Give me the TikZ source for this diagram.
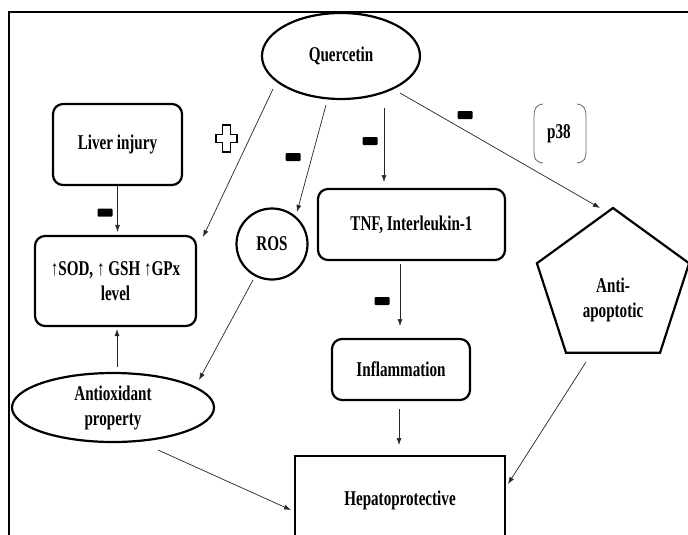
\documentclass[tikz,border=0pt]{standalone}
\usepackage{fontspec}
\setmainfont{Liberation Serif}[FakeStretch=0.72]
\usetikzlibrary{shapes.geometric,arrows.meta,calc}
\begin{document}
\begin{tikzpicture}[x=1pt,y=-1pt,
  lbl/.style={font=\fontsize{21}{25}\selectfont\bfseries, align=center, text=black},
  rbox/.style={lbl, draw, line width=2.2pt, rounded corners=10pt, inner sep=0pt},
  oval/.style={lbl, draw, ellipse, line width=2.2pt, inner sep=0pt},
  arr/.style={-{Latex[length=7pt,width=5pt]}, line width=0.7pt, draw=black!85},
  minus/.style={fill=black, minimum width=15pt, minimum height=8pt, inner sep=0pt, rounded corners=1pt},
  bracket/.style={draw=black!60, line width=0.8pt}]
\useasboundingbox (0,0) rectangle (688,535);
\clip (0,0) rectangle (688,535);
\fill[white] (0,0) rectangle (688,535);
\draw[line width=2.2pt] (9,560) -- (9,12) -- (700,12);

% nodes
\node[oval, minimum width=158pt, minimum height=86pt] (Q) at (341,56) {Quercetin};
\node[rbox, minimum width=129pt, minimum height=81pt] (liver) at (117.5,144.5) {Liver injury};
\node[rbox, minimum width=161pt, minimum height=90pt] (sod) at (115.5,281) {↑SOD, ↑ GSH ↑GPx\\level};
\node[lbl, circle, draw, line width=2.2pt, minimum size=71pt, inner sep=0pt] (ros) at (272,244) {ROS};
\node[rbox, minimum width=187pt, minimum height=71pt] (tnf) at (411.5,224.5) {TNF, Interleukin-1};
\node[rbox, minimum width=138pt, minimum height=61pt] (infl) at (401,369.5) {Inflammation};
\node[regular polygon, regular polygon sides=5, draw, line width=2.2pt, minimum size=160pt, inner sep=0pt] (anti) at (613,288) {};
\node[lbl] (antitext) at (613,300) {Anti-\\apoptotic};
\node[oval, minimum width=202pt, minimum height=69pt] (antiox) at (113,407.5) {Antioxidant\\property};
\node[lbl, draw, line width=2.6pt, minimum width=210pt, minimum height=88pt, inner sep=0pt] (hep) at (400,500) {Hepatoprotective};
\node[lbl] (p38) at (559,134) {p38};

% p38 brackets
\draw[bracket] (543,104) .. controls (535,105) and (534,110) .. (534,117) -- (534,151) .. controls (534,158) and (535,162) .. (543,163);
\draw[bracket] (577,104) .. controls (585,105) and (586,110) .. (586,117) -- (586,151) .. controls (586,158) and (585,162) .. (577,163);

% signs
\draw[line width=1.8pt, fill=white] (222.5,125) -- (230.5,125) -- (230.5,134.5) -- (237,134.5) -- (237,142.5) -- (230.5,142.5) -- (230.5,152) -- (222.5,152) -- (222.5,142.5) -- (216,142.5) -- (216,134.5) -- (222.5,134.5) -- cycle;
\node[minus] (m1) at (105,212.5) {};
\node[minus] (m2) at (293,157) {};
\node[minus] (m3) at (370,141) {};
\node[minus] (m4) at (465,115) {};
\node[minus] (m5) at (382,301) {};

% connectors
\draw[arr] ($(Q)+(-68,33)$) -- ($(sod)+(87.5,-44)$);
\draw[arr] ($(Q)+(-15,49)$) -- ($(ros)+(25,-32)$);
\draw[arr] ($(Q)+(43,52)$) -- ($(tnf)+(-27.5,-42.5)$);
\draw[arr] ($(Q)+(59,37)$) -- ($(anti)+(-13,-80)$);
\draw[arr] (liver.south) -- ($(liver.south |- sod.north)+(0,-3)$);
\draw[arr] ($(antiox)+(4,-40.5)$) -- ($(sod.south)+(1.5,2)$);
\draw[arr] ($(ros)+(-19,36)$) -- ($(antiox)+(86,-27.5)$);
\draw[arr] ($(tnf)+(-11.5,39.5)$) -- ($(infl)+(-1,-43.5)$);
\draw[arr] ($(infl)+(-2,39.5)$) -- ($(hep)+(-1,-55)$);
\draw[arr] ($(antiox)+(45,42.5)$) -- ($(hep)+(-109,10)$);
\draw[arr] ($(anti)+(-27,74)$) -- ($(hep)+(108,-16)$);
\end{tikzpicture}
\end{document}
